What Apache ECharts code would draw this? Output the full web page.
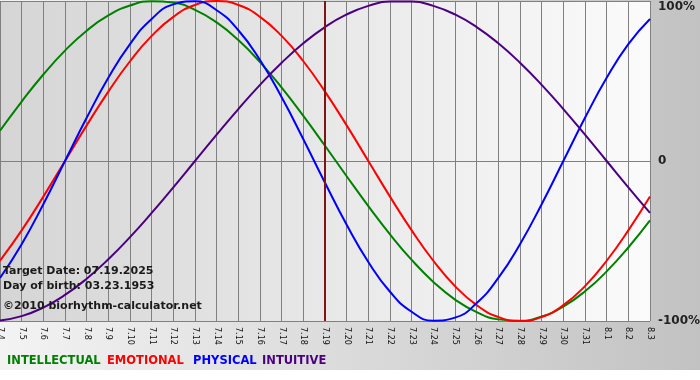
<!DOCTYPE html>
<html>
<head>
<meta charset="utf-8">
<script src="https://cdn.jsdelivr.net/npm/echarts@6/dist/echarts.min.js"></script>
<style>html,body{margin:0;padding:0;background:#fff}#c{width:700px;height:380px}</style>
</head>
<body>
<div id="c"></div>
<script>
var categories = ['7.4','7.5','7.6','7.7','7.8','7.9','7.10','7.11','7.12','7.13','7.14','7.15','7.16','7.17','7.18','7.19','7.20','7.21','7.22','7.23','7.24','7.25','7.26','7.27','7.28','7.29','7.30','7.31','8.1','8.2','8.3'];
var intellectual = [0.1893,0.3717,0.5406,0.6901,0.8146,0.9096,0.9718,0.9989,0.9898,0.9450,0.8660,0.7557,0.6182,0.4582,0.2817,0.0951,-0.0951,-0.2817,-0.4582,-0.6182,-0.7557,-0.8660,-0.9450,-0.9898,-0.9989,-0.9718,-0.9096,-0.8146,-0.6901,-0.5406,-0.3717];
var emotional = [-0.6235,-0.4339,-0.2225,0,0.2225,0.4339,0.6235,0.7818,0.9010,0.9749,1.0,0.9749,0.9010,0.7818,0.6235,0.4339,0.2225,0,-0.2225,-0.4339,-0.6235,-0.7818,-0.9010,-0.9749,-1.0,-0.9749,-0.9010,-0.7818,-0.6235,-0.4339,-0.2225];
var physical = [-0.7308,-0.5196,-0.2698,0,0.2698,0.5196,0.7308,0.8879,0.9791,0.9977,0.9423,0.8170,0.6311,0.3984,0.1362,-0.1362,-0.3984,-0.6311,-0.8170,-0.9423,-0.9977,-0.9791,-0.8879,-0.7308,-0.5196,-0.2698,0,0.2698,0.5196,0.7308,0.8879];
var intuitive = [-0.9966,-0.9694,-0.9158,-0.8372,-0.7357,-0.6142,-0.4759,-0.3247,-0.1646,0,0.1646,0.3247,0.4759,0.6142,0.7357,0.8372,0.9158,0.9694,0.9966,0.9966,0.9694,0.9158,0.8372,0.7357,0.6142,0.4759,0.3247,0.1646,0,-0.1646,-0.3247];
var targetDay = '7.19';
var yTicks = {'1':'100%','0':'0','-1':'-100%'};
var seriesNames = ['INTELLECTUAL','EMOTIONAL','PHYSICAL','INTUITIVE'];
var seriesColors = ['#008000','#ff0000','#0000ff','#4b0082'];
var infoLines = ['Target Date: 07.19.2025','Day of birth: 03.23.1953','\u00a92010 biorhythm-calculator.net'];

var chart = echarts.init(document.getElementById('c'), null, {renderer:'canvas'});
var font = 'DejaVu Sans, Verdana, sans-serif';
function mk(name, data, color, extra) {
  var s = {name:name, type:'line', data:data, smooth:true, symbol:'none',
    lineStyle:{color:color, width:2}, itemStyle:{color:color}, animation:false, z:3};
  if (extra) for (var k in extra) s[k] = extra[k];
  return s;
}
var legendX = [7,107,193,262];
var graphics = [];
seriesNames.forEach(function(n,i){
  graphics.push({type:'text', left:legendX[i], top:355, z:10,
    style:{text:n, fill:seriesColors[i], font:'bold 11.5px '+font}});
});
var infoY = [266,281,301];
infoLines.forEach(function(t,i){
  graphics.push({type:'text', left:3, top:infoY[i], z:10,
    style:{text:t, fill:'#1a1a1a', font:'bold 11px '+font}});
});
graphics.push({type:'rect', left:0, top:370, z:-1, shape:{width:700,height:10}, style:{fill:'#ffffff'}});

chart.setOption({
  animation:false,
  backgroundColor: new echarts.graphic.LinearGradient(0,0,1,0,[{offset:0,color:'#f3f3f3'},{offset:0.92,color:'#c6c6c6'},{offset:1,color:'#c2c2c2'}]),
  grid:{left:0, right:50, top:1, bottom:59, show:true, borderWidth:0, containLabel:false, outerBoundsMode:'none',
    backgroundColor: new echarts.graphic.LinearGradient(0,0,1,0,[{offset:0,color:'#d5d5d5'},{offset:1,color:'#fbfbfb'}])},
  xAxis:{type:'category', data:categories, boundaryGap:false,
    axisLine:{show:true, lineStyle:{color:'#808080', width:1}},
    axisTick:{show:true, length:4, interval:0, lineStyle:{color:'#808080'}},
    splitLine:{show:true, interval:0, lineStyle:{color:'#808080', width:1}},
    axisLabel:{interval:0, rotate:-90, fontSize:8, fontFamily:font, color:'#111', margin:6, hideOverlap:false}},
  yAxis:{type:'value', position:'right', min:-1, max:1, interval:1,
    axisLine:{show:false}, axisTick:{show:false},
    splitLine:{show:true, lineStyle:{color:'#808080', width:1}},
    axisLabel:{fontSize:12, fontWeight:'bold', fontFamily:font, color:'#222', margin:8,
      verticalAlignMaxLabel:'top',
      formatter:function(v){ return yTicks[String(v)] !== undefined ? yTicks[String(v)] : ''; }}},
  graphic:graphics,
  series:[
    mk(seriesNames[0], intellectual, seriesColors[0]),
    mk(seriesNames[1], emotional, seriesColors[1]),
    mk(seriesNames[2], physical, seriesColors[2]),
    mk(seriesNames[3], intuitive, seriesColors[3], {
      markLine:{silent:true, symbol:['none','none'], label:{show:false}, animation:false,
        lineStyle:{color:'#7d1515', width:2, type:'solid'}, data:[{xAxis:targetDay}]}})
  ]
});
</script>
</body>
</html>
